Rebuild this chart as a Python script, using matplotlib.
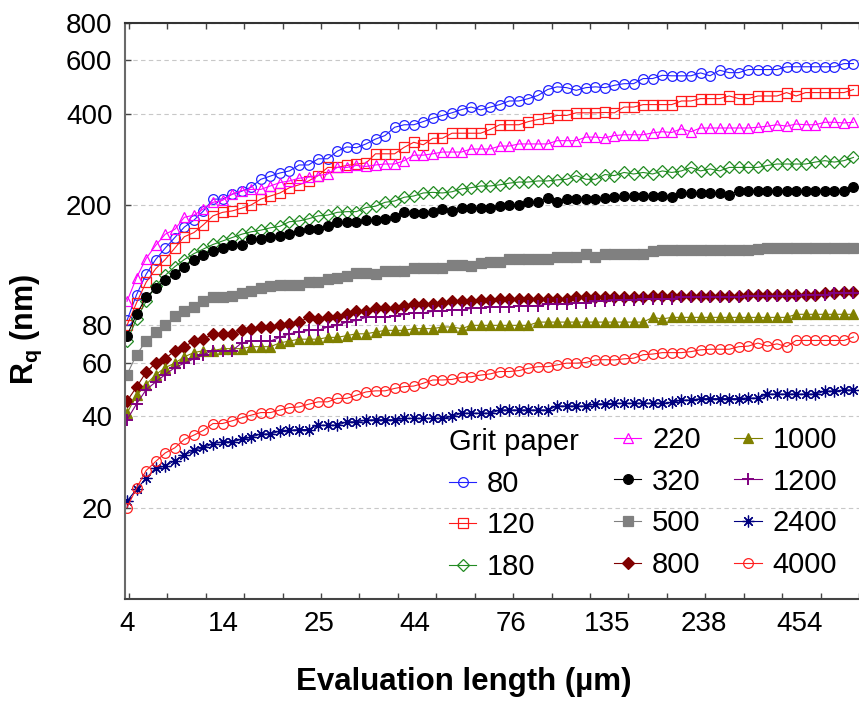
import matplotlib.pyplot as plt
import numpy as np

plt.rcParams['font.family'] = ['Liberation Sans', 'DejaVu Sans']
plt.rcParams['mathtext.fontset'] = 'custom'
plt.rcParams['mathtext.rm'] = 'Liberation Sans'
plt.rcParams['mathtext.bf'] = 'Liberation Sans:bold'

# tick labels of the evaluation length axis (points are evenly spaced on the plot)
xtick_labels = ['4', '14', '25', '44', '76', '135', '238', '454']
ytick_vals = [20, 40, 60, 80, 200, 400, 600, 800]

grit = ['80', '120', '180', '220', '320', '500', '800', '1000', '1200', '2400', '4000']

# Rq (nm), 77 points per grit
s80 = [83, 101, 118, 132, 144, 156, 169, 178, 191, 209,
       209, 217, 222, 229, 243, 249, 255, 259, 271, 271,
       284, 284, 301, 311, 309, 318, 330, 339, 361, 368,
       368, 377, 387, 395, 403, 413, 421, 412, 421, 429,
       441, 441, 449, 460, 481, 491, 488, 478, 488, 491,
       488, 497, 503, 503, 523, 523, 536, 534, 534, 534,
       546, 534, 557, 547, 547, 560, 560, 560, 560, 572,
       572, 572, 572, 572, 572, 586, 586]
s120 = [80, 95, 111, 123, 132, 144, 157, 162, 172, 184,
        189, 191, 195, 200, 209, 214, 219, 228, 233, 240,
        250, 266, 266, 270, 273, 275, 295, 295, 295, 310,
        322, 316, 332, 332, 345, 345, 345, 345, 355, 368,
        368, 368, 377, 383, 387, 395, 395, 403, 403, 403,
        404, 403, 421, 421, 429, 429, 429, 429, 441, 441,
        449, 449, 449, 458, 449, 449, 458, 458, 458, 470,
        458, 470, 470, 470, 470, 470, 481]
s180 = [71, 84, 96, 108, 117, 125, 132, 138, 143, 148,
        152, 156, 160, 163, 165, 168, 170, 176, 177, 180,
        184, 185, 189, 190, 190, 196, 198, 204, 206, 212,
        214, 219, 220, 219, 221, 226, 228, 231, 231, 233,
        236, 238, 238, 240, 240, 242, 243, 250, 243, 243,
        252, 250, 256, 253, 256, 253, 259, 256, 259, 266,
        259, 263, 259, 266, 266, 266, 266, 270, 273, 273,
        273, 273, 277, 280, 277, 280, 287]
s220 = [96, 115, 133, 147, 160, 166, 182, 185, 194, 204,
        207, 217, 223, 225, 225, 231, 237, 240, 245, 247,
        250, 253, 266, 266, 270, 268, 271, 273, 273, 280,
        292, 292, 295, 299, 299, 299, 306, 306, 306, 313,
        313, 318, 318, 318, 318, 326, 326, 326, 335, 335,
        333, 339, 341, 341, 341, 346, 349, 347, 357, 349,
        359, 359, 359, 359, 359, 359, 361, 364, 368, 364,
        370, 368, 368, 375, 375, 373, 375]
s320 = [74, 87, 99, 106, 113, 118, 125, 132, 137, 141,
        144, 147, 147, 154, 154, 157, 158, 160, 164, 167,
        167, 170, 175, 175, 175, 178, 178, 179, 183, 189,
        188, 188, 190, 194, 191, 196, 196, 196, 196, 198,
        200, 200, 205, 205, 210, 205, 209, 209, 209, 209,
        210, 212, 214, 214, 214, 214, 214, 212, 219, 219,
        219, 219, 219, 216, 223, 223, 223, 223, 223, 223,
        223, 223, 223, 223, 223, 223, 230]
s500 = [55, 64, 71, 76, 80, 86, 89, 92, 96, 99,
        99, 100, 102, 104, 106, 108, 109, 109, 109, 111,
        111, 114, 115, 116, 119, 119, 118, 121, 121, 121,
        124, 124, 124, 124, 127, 127, 126, 129, 130, 130,
        133, 133, 133, 133, 133, 135, 135, 135, 138, 135,
        138, 138, 138, 138, 138, 141, 142, 142, 142, 142,
        142, 142, 142, 142, 142, 142, 143, 144, 144, 144,
        144, 144, 144, 144, 144, 144, 144]
s800 = [45, 50, 56, 60, 62, 66, 68, 71, 72, 75,
        75, 75, 77, 78, 79, 79, 80, 81, 82, 85,
        84, 85, 85, 87, 89, 89, 91, 91, 91, 93,
        94, 94, 94, 95, 96, 96, 96, 97, 97, 98,
        98, 98, 98, 98, 98, 98, 98, 99, 99, 99,
        99, 99, 99, 99, 99, 100, 100, 100, 100, 100,
        100, 100, 100, 100, 100, 101, 101, 101, 101, 101,
        101, 101, 101, 102, 102, 103, 103]
s1000 = [41, 47, 51, 55, 58, 60, 63, 65, 66, 66,
         67, 67, 67, 68, 68, 68, 70, 71, 72, 72,
         72, 73, 73, 74, 75, 75, 76, 77, 77, 77,
         78, 78, 78, 79, 79, 78, 80, 80, 80, 80,
         80, 80, 80, 82, 82, 82, 82, 82, 82, 82,
         82, 82, 82, 82, 82, 85, 84, 85, 85, 85,
         85, 85, 85, 85, 85, 85, 85, 85, 85, 85,
         87, 87, 87, 87, 87, 87, 87]
s1200 = [39, 44, 49, 52, 55, 58, 60, 62, 64, 66,
         66, 66, 70, 71, 71, 71, 73, 75, 76, 77,
         77, 79, 80, 82, 83, 85, 85, 85, 86, 87,
         88, 88, 89, 89, 90, 90, 91, 91, 92, 92,
         92, 93, 93, 93, 94, 94, 94, 95, 95, 96,
         96, 97, 97, 97, 98, 98, 98, 98, 99, 99,
         99, 99, 99, 99, 99, 100, 100, 100, 100, 100,
         100, 101, 101, 101, 102, 102, 102]
s2400 = [21, 23, 25, 27, 27.4, 28.6, 29.8, 30.9, 31.6, 32.5,
         33, 33, 33.6, 34.2, 35, 35, 35.8, 36, 36.2, 36.2,
         37.4, 37.4, 37.4, 38.4, 38.4, 38.9, 39, 39, 39, 39.4,
         39.4, 39.4, 39.4, 39.4, 40, 41, 41, 41, 41, 42,
         42, 42, 42, 42, 42, 43.3, 43.3, 43.3, 43.3, 44,
         44, 44.2, 44.2, 44.2, 44.2, 44.2, 44.2, 44.5, 45.3, 45.3,
         45.8, 45.8, 45.8, 45.8, 45.8, 46, 46, 47.4, 47.4, 47.4,
         47.4, 47.4, 47.4, 48.5, 48.5, 48.9, 48.9]
s4000 = [20, 23.2, 26.5, 28.4, 30.3, 31.5, 33.6, 34.7, 36, 37.9,
         37.9, 38.7, 39.6, 40.4, 41.2, 41.2, 42, 42.8, 43, 43.9,
         44.7, 44.7, 45.9, 45.9, 47, 48.2, 48.6, 48.6, 49.5, 50.2,
         50.4, 51.5, 52.8, 52.8, 53, 53.9, 54.1, 54.8, 55.3, 56.3,
         56.3, 56.7, 57.7, 58.4, 58.4, 59.2, 60, 60, 60.3, 61.5,
         61.6, 61.5, 62, 62.3, 64, 64.3, 65, 65, 65, 65.5,
         66.4, 66.7, 66.7, 66.7, 68, 68.3, 69.9, 68.3, 69.5, 68,
         71.3, 71.3, 71.3, 71.3, 71.3, 71.3, 73.2]

series = [s80, s120, s180, s220, s320, s500, s800, s1000, s1200, s2400, s4000]

# (colour, marker, filled, size)
styles = [
    ('#2222ff', 'o', False, 7.0),
    ('#ff1a1a', 's', False, 7.0),
    ('#228b22', 'D', False, 6.5),
    ('#ff00ff', '^', False, 7.5),
    ('#000000', 'o', True, 7.0),
    ('#808080', 's', True, 7.0),
    ('#800000', 'D', True, 6.5),
    ('#808000', '^', True, 7.0),
    ('#800080', '+', True, 9.0),
    ('#000080', (8, 2, 0), True, 8.5),
    ('#ff2020', 'o', False, 7.0),
]

fig = plt.figure(figsize=(8.59, 7.02), dpi=100)
ax = fig.add_axes([0.1455, 0.1472, 0.8545, 0.8205])

x = np.arange(len(s80))
lines = []
for vals, (c, m, filled, ms), lab in zip(series, styles, grit):
    mew = 1.4 if m == '+' else 0.9
    ln, = ax.plot(x, vals, color=c, lw=0.8, marker=m, ms=ms,
                  mfc=c if filled else 'none', mec=c, mew=mew, label=lab)
    lines.append(ln)

ax.set_yscale('log')
ax.set_ylim(10, 800)
ax.set_xlim(-0.21, 76.2)

ax.set_yticks(ytick_vals)
ax.set_yticklabels([str(v) for v in ytick_vals])
ax.yaxis.set_minor_locator(plt.NullLocator())

ax.set_xticks(np.arange(len(xtick_labels)) * 10.05)
ax.set_xticklabels(xtick_labels)
ax.set_xticks(np.arange(0.2, 77, 4.02), minor=True)

ax.tick_params(axis='x', which='major', length=0, labelsize=20, pad=9)
ax.tick_params(axis='x', which='minor', direction='in', length=4, width=1,
               top=True, bottom=True, color='#444444')
ax.tick_params(axis='y', which='major', direction='in', length=4, width=1,
               labelsize=20, pad=9, color='#444444')

ax.yaxis.grid(True, which='major', ls=(0, (4, 3)), color='#c8c8c8', lw=0.8)
ax.set_axisbelow(True)

ax.spines['left'].set_color('#6a6a6a')
ax.spines['bottom'].set_color('#444444')
ax.spines['top'].set_color('#333333')
for side in ['left', 'bottom', 'top']:
    ax.spines[side].set_linewidth(1.5)
ax.spines['right'].set_visible(False)

ax.set_xlabel('Evaluation length (µm)', fontsize=22.5, fontweight='bold')
ax.xaxis.set_label_coords(0.462, -0.119)
ax.set_ylabel(r'$\mathbf{R_q}$ (nm)', fontsize=22, fontweight='bold')
ax.yaxis.set_label_coords(-0.11, 0.468)

leg_kw = dict(frameon=False, fontsize=21, handlelength=0.93, handletextpad=0.38,
              borderpad=0.22, labelspacing=0.47, numpoints=1, borderaxespad=0)
leg1 = ax.legend(handles=lines[:3], title='Grit paper', title_fontsize=21,
                 alignment='left', loc='upper left',
                 bbox_to_anchor=(0.4327, 0.3074), **leg_kw)
ax.add_artist(leg1)
leg2 = ax.legend(handles=lines[3:], ncol=2, columnspacing=1.15,
                 loc='upper left', bbox_to_anchor=(0.6575, 0.3110), **leg_kw)

fig.savefig('out.png', dpi=100)
